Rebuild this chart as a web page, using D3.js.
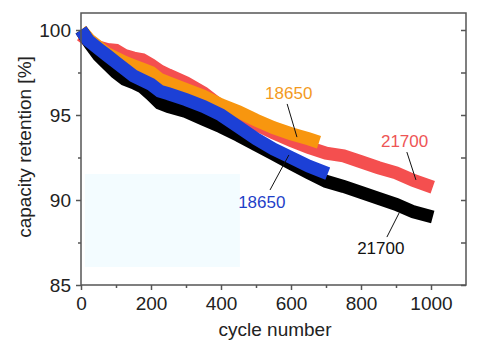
<!DOCTYPE html>
<html>
<head>
<meta charset="utf-8">
<script src="https://cdn.jsdelivr.net/npm/d3@7"></script>
<style>
  body { margin: 0; background: #fff; }
  text { font-family: "Liberation Sans", Arial, sans-serif; }
</style>
</head>
<body>
<svg id="chart" width="480" height="349"></svg>
<script>
// red 21700
const red21700Cycles = [0, 25, 50, 75, 100, 125, 150, 175, 200, 225, 250, 300, 350, 400, 450, 500, 550, 600, 650, 700, 750, 800, 850, 900, 950, 1005];
const red21700Values = [99.7, 99.3, 99.0, 98.85, 98.8, 98.5, 98.35, 98.25, 97.95, 97.6, 97.35, 96.9, 96.3, 95.5, 94.9, 94.45, 93.95, 93.5, 93.1, 92.75, 92.6, 92.25, 91.9, 91.6, 91.15, 90.75];

// orange 18650
const orange18650Cycles = [0, 25, 50, 75, 100, 125, 150, 175, 200, 225, 250, 300, 350, 400, 450, 500, 550, 600, 650, 680];
const orange18650Values = [100.0, 99.4, 99.0, 98.6, 98.35, 98.1, 97.9, 97.7, 97.5, 97.1, 96.9, 96.5, 96.1, 95.6, 95.2, 94.7, 94.25, 93.9, 93.6, 93.4];

// black 21700
const black21700Cycles = [0, 25, 50, 75, 100, 125, 150, 175, 200, 225, 250, 300, 350, 400, 450, 500, 550, 600, 650, 700, 750, 800, 850, 900, 950, 1005];
const black21700Values = [100.0, 99.2, 98.5, 98.0, 97.5, 97.1, 96.9, 96.65, 96.2, 95.7, 95.5, 95.2, 94.75, 94.3, 93.8, 93.25, 92.7, 92.15, 91.6, 91.1, 90.8, 90.45, 90.1, 89.75, 89.3, 89.0];

// blue 18650
const blue18650Cycles = [0, 20, 50, 75, 100, 125, 150, 175, 200, 225, 250, 300, 350, 400, 450, 500, 550, 600, 650, 705];
const blue18650Values = [100.0, 99.4, 98.9, 98.5, 98.1, 97.7, 97.3, 97.05, 96.8, 96.4, 96.25, 95.9, 95.5, 95.0, 94.3, 93.6, 93.0, 92.5, 92.0, 91.55];

const xMajorTicks = [0, 200, 400, 600, 800, 1000];
const xMinorTicks = [100, 300, 500, 700, 900];
const yMajorTicks = [85, 90, 95, 100];
const yMinorTicks = [87.5, 92.5, 97.5];

// labels: text, x cycle, y value, leader from/to
const labelTexts = ["18650", "21700", "18650", "21700"];
const labelAt = [[526, 95.94], [857, 93.12], [449, 89.53], [789, 86.82]];
const leaderFrom = [[589, 95.65], [931, 92.82], [594, 92.65], [909, 89.24]];
const leaderTo = [[617, 93.7], [957, 91.18], [540, 90.59], [874, 87.82]];
const labelColors = ["#f39a1e", "#ee5555", "#1f3fc8", "#111111"];

let svg = d3.select('#chart');

let x = d3.scaleLinear().domain([0, 1100]).range([81, 466]);
let y = d3.scaleLinear().domain([85, 101]).range([285, 13]);

// light patch in the lower left of the plot
svg.append('rect')
  .attr('x', x(11)).attr('y', y(91.53))
  .attr('width', x(454) - x(11)).attr('height', y(86.06) - y(91.53))
  .attr('fill', '#f3fcff');

let series = [
  {cycles: red21700Cycles, values: red21700Values, color: '#f44f4f'},
  {cycles: orange18650Cycles, values: orange18650Values, color: '#f8960f'},
  {cycles: black21700Cycles, values: black21700Values, color: '#000000'},
  {cycles: blue18650Cycles, values: blue18650Values, color: '#1c40d6'}
];

let line = d3.line()
  .x(d => x(d[0]))
  .y(d => y(d[1]));

series.forEach(function(s) {
  let pts = s.cycles.map((c, i) => [c, s.values[i]]);
  svg.append('path')
    .attr('d', line(pts))
    .attr('fill', 'none')
    .attr('stroke', s.color)
    .attr('stroke-width', 13)
    .attr('stroke-linejoin', 'miter');
});

// frame
svg.append('rect')
  .attr('x', x(0)).attr('y', y(101))
  .attr('width', x(1100) - x(0)).attr('height', y(85) - y(101))
  .attr('fill', 'none')
  .attr('stroke', '#555')
  .attr('stroke-width', 1.5);

function styleAxis(g) {
  g.select('.domain').remove();
  g.selectAll('line').attr('stroke', '#555').attr('stroke-width', 1.5);
  g.selectAll('text').attr('font-size', 19).attr('fill', '#222')
    .attr('font-family', '"Liberation Sans", Arial, sans-serif');
}

svg.append('g')
  .attr('transform', `translate(${x(0)},0)`)
  .call(d3.axisLeft(y).tickValues(yMajorTicks).tickSize(5).tickPadding(5).tickFormat(d3.format('d')))
  .call(styleAxis);
svg.append('g')
  .attr('transform', `translate(${x(0)},0)`)
  .call(d3.axisLeft(y).tickValues(yMinorTicks).tickSize(3).tickFormat(''))
  .call(styleAxis);

svg.append('g')
  .attr('transform', `translate(0,${y(85)})`)
  .call(d3.axisBottom(x).tickValues(xMajorTicks).tickSize(5).tickPadding(7).tickFormat(d3.format('d')))
  .call(styleAxis);
svg.append('g')
  .attr('transform', `translate(0,${y(85)})`)
  .call(d3.axisBottom(x).tickValues(xMinorTicks).tickSize(3).tickFormat(''))
  .call(styleAxis);

svg.append('g')
  .attr('transform', `translate(${x(1100)},0)`)
  .call(d3.axisRight(y).tickValues(yMajorTicks.concat(yMinorTicks)).tickSize(-5).tickFormat(''))
  .call(styleAxis);

// axis titles
svg.append('text')
  .attr('transform', 'translate(24,147) rotate(-90)')
  .attr('text-anchor', 'middle')
  .attr('dominant-baseline', 'central')
  .attr('font-size', 19)
  .attr('fill', '#222')
  .text('capacity retention [%]');

svg.append('text')
  .attr('x', 275).attr('y', 336)
  .attr('text-anchor', 'middle')
  .attr('font-size', 19)
  .attr('fill', '#222')
  .text('cycle number');

// annotations
labelTexts.forEach(function(t, i) {
  svg.append('line')
    .attr('x1', x(leaderFrom[i][0])).attr('y1', y(leaderFrom[i][1]))
    .attr('x2', x(leaderTo[i][0])).attr('y2', y(leaderTo[i][1]))
    .attr('stroke', '#111')
    .attr('stroke-width', 1);
  svg.append('text')
    .attr('x', x(labelAt[i][0])).attr('y', y(labelAt[i][1]))
    .attr('font-size', 17)
    .attr('fill', labelColors[i])
    .text(t);
});
</script>
</body>
</html>
